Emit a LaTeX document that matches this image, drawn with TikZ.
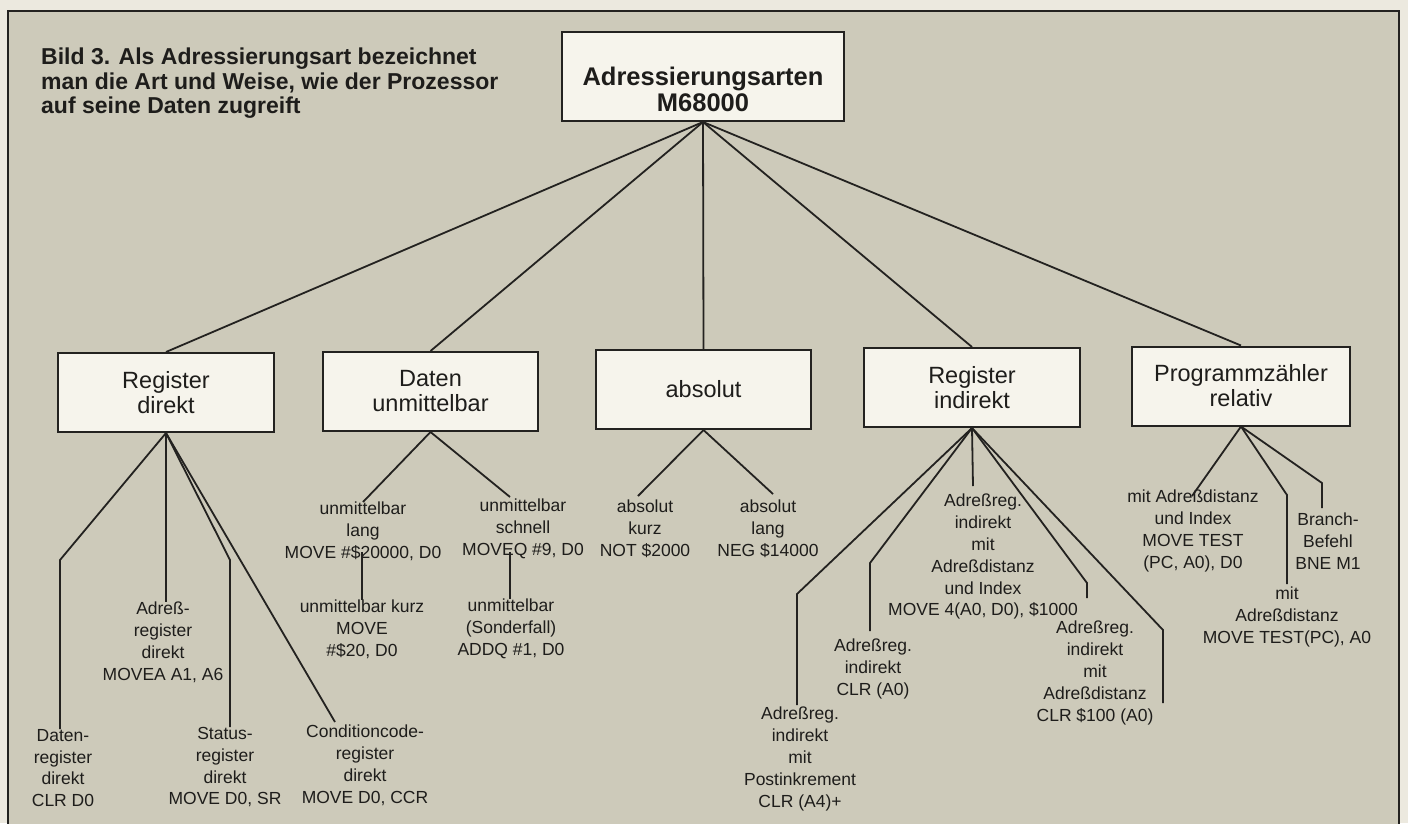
\documentclass[tikz,border=0pt]{standalone}
\usepackage{fontspec}
\setmainfont{Liberation Sans}
\definecolor{outc}{HTML}{ECE9DF}
\definecolor{bgc}{HTML}{CDCABA}
\definecolor{boxc}{HTML}{F6F4EC}
\definecolor{linec}{HTML}{232220}
\definecolor{textc}{HTML}{1E1D1B}
\tikzset{
  bigbox/.style={draw=linec, line width=2pt, fill=boxc, minimum width=216pt, minimum height=79pt, inner sep=0pt, align=center, text=textc, font=\fontsize{23.5pt}{25pt}\selectfont},
  lbl/.style={font=\fontsize{17.5pt}{21.8pt}\selectfont, align=center, inner sep=0pt, anchor=north, text=textc},
  conn/.style={draw=linec, line width=1.8pt, line join=miter},
  titletext/.style={font=\fontsize{23pt}{24.5pt}\selectfont\bfseries, align=left, inner sep=0pt, anchor=north west, text=textc},
  roottext/.style={font=\fontsize{25.5pt}{25.5pt}\selectfont\bfseries, align=center, inner sep=0pt, anchor=north, text=textc}
}
\begin{document}
\begin{tikzpicture}[x=1pt,y=-1pt]
\useasboundingbox (0,0) rectangle (1408,823);
\clip (0,0) rectangle (1408,823);
\fill[outc] (0,0) rectangle (1408,823);
\fill[bgc] (8,11) rectangle (1399,830);
\draw[linec, line width=2pt] (8,830) -- (8,11) -- (1399,11) -- (1399,830);

% title
\node[titletext] (title) at (41,48) {Bild 3. Als Adressierungsart bezeichnet\\man die Art und Weise, wie der Prozessor\\auf seine Daten zugreift};

% root
\node[bigbox, minimum width=282pt, minimum height=89pt] (root) at (703,76.5) {};
\node[roottext] (roott) at (703,67) {Adressierungsarten\\M68000};

% level 2
\node[bigbox] (regdir) at (166,392.5) {Register\\direkt};
\node[bigbox, minimum width=215pt] (datun) at (430.5,391.5) {Daten\\unmittelbar};
\node[bigbox, minimum width=215pt] (abs) at (703.5,389.5) {absolut};
\node[bigbox] (regind) at (972,387.5) {Register\\indirekt};
\node[bigbox, minimum width=218pt] (pcrel) at (1241,386) {Programmzähler\\relativ};

\foreach \n in {regdir,datun,abs,regind,pcrel}
  \draw[conn] (root.south) -- (\n.north);

% Register direkt children
\node[lbl] (dreg) at (63,729) {Daten-\\register\\direkt\\CLR D0};
\node[lbl] (areg) at (163,602) {Adreß-\\register\\direkt\\MOVEA A1, A6};
\node[lbl] (sreg) at (225,727) {Status-\\register\\direkt\\MOVE D0, SR};
\node[lbl] (ccreg) at (365,725) {Conditioncode-\\register\\direkt\\MOVE D0, CCR};
\coordinate (k1) at (60,560);
\coordinate (k2) at (230,560);
\draw[conn] (regdir.south) -- (k1) -- (k1 |- dreg.north);
\draw[conn] (regdir.south) -- (regdir.south |- areg.north);
\draw[conn] (regdir.south) -- (k2) -- (k2 |- sreg.north);
\draw[conn] (regdir.south) -- (335,722);

% Daten unmittelbar children
\node[lbl] (ulang) at (363,502) {unmittelbar\\lang\\MOVE \#\$20000, D0};
\node[lbl] (uschn) at (523,499) {unmittelbar\\schnell\\MOVEQ \#9, D0};
\node[lbl] (ukurz) at (362,600) {unmittelbar kurz\\MOVE\\\#\$20, D0};
\node[lbl] (usond) at (511,599) {unmittelbar\\(Sonderfall)\\ADDQ \#1, D0};
\draw[conn] (datun.south) -- (ulang.north);
\draw[conn] (datun.south) -- (510,497);
\coordinate (k3) at (362,552);
\coordinate (k4) at (510,552);
\draw[conn] (k3) -- (k3 |- ukurz.north);
\draw[conn] (k4) -- (k4 |- usond.north);

% absolut children
\node[lbl] (akurz) at (645,500) {absolut\\kurz\\NOT \$2000};
\node[lbl] (alang) at (768,500) {absolut\\lang\\NEG \$14000};
\draw[conn] (abs.south) -- (638,496);
\draw[conn] (abs.south) -- (773,494);

% Register indirekt children
\node[lbl] (rpost) at (800,707) {Adreßreg.\\indirekt\\mit\\Postinkrement\\CLR (A4)+};
\node[lbl] (rclr) at (873,639) {Adreßreg.\\indirekt\\CLR (A0)};
\node[lbl] (ridx) at (983,494) {Adreßreg.\\indirekt\\mit\\Adreßdistanz\\und Index\\MOVE 4(A0, D0), \$1000};
\node[lbl] (rdist) at (1095,621) {Adreßreg.\\indirekt\\mit\\Adreßdistanz\\CLR \$100 (A0)};
\coordinate (k5) at (797,594);
\coordinate (k6) at (870,563);
\coordinate (k7) at (1087,583);
\coordinate (k8) at (1163,630);
\coordinate (e8) at (1163,703);
\draw[conn] (regind.south) -- (k5) -- (797,705);
\draw[conn] (regind.south) -- (k6) -- (870,631);
\draw[conn] (regind.south) -- (973,486);
\draw[conn] (regind.south) -- (k7) -- (1087,598);
\draw[conn] (regind.south) -- (k8) -- (e8);

% Programmzaehler children
\node[lbl] (pidx) at (1193,490) {mit Adreßdistanz\\und Index\\MOVE TEST\\(PC, A0), D0};
\node[lbl] (pdist) at (1287,587) {mit\\Adreßdistanz\\MOVE TEST(PC), A0};
\node[lbl] (pbr) at (1328,513) {Branch-\\Befehl\\BNE M1};
\coordinate (k9) at (1287,495);
\coordinate (k10) at (1322,483);
\draw[conn] (pcrel.south) -- (1192,496);
\draw[conn] (pcrel.south) -- (k9) -- (1287,584);
\draw[conn] (pcrel.south) -- (k10) -- (1322,508);
\end{tikzpicture}
\end{document}
